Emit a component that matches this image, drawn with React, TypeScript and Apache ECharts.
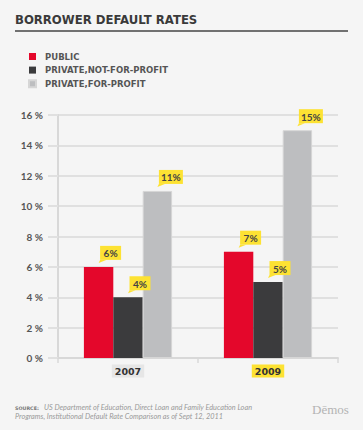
import React, { useEffect, useRef } from "react";
import * as echarts from "echarts";

const categories = ["2007", "2009"];
const seriesNames = ["PUBLIC", "PRIVATE,NOT-FOR-PROFIT", "PRIVATE,FOR-PROFIT"];
const publicRates = [6, 7];
const notForProfitRates = [4, 5];
const forProfitRates = [11, 15];
const yTicks = [0, 2, 4, 6, 8, 10, 12, 14, 16];

const colors = ["#e4072b", "#3b3b3d", "#bdbec0"];
const BG = "#f5f5f5";
const CAT_GAP = 0.37;

function calloutSeries(values: number[], idx: number) {
  return {
    type: "custom",
    name: seriesNames[idx] + " label",
    data: values.map((v, i) => [i, v]),
    encode: { x: 0, y: 1 },
    z: 10,
    renderItem: (params: any, api: any) => {
      const cat = api.value(0);
      const val = api.value(1);
      const pt = api.coord([cat, val]);
      const catW = api.size([1, 0])[0];
      const barW = (catW * (1 - CAT_GAP)) / 3;
      const cx = pt[0] + (idx - 1) * barW;
      const tipY = pt[1] - 4;
      const boxBottom = tipY - 3;
      const label = val + "%";
      const w = label.length > 2 ? 24 : 21;
      const h = 14;
      const bx = cx + 1.5;
      return {
        type: "group",
        children: [
          {
            type: "polygon",
            shape: { points: [[cx, tipY], [bx, boxBottom], [bx + 6, boxBottom]] },
            style: { fill: "#fde233" },
          },
          {
            type: "rect",
            shape: { x: bx, y: boxBottom - h, width: w, height: h },
            style: { fill: "#fde233" },
          },
          {
            type: "text",
            x: bx + w / 2,
            y: boxBottom - h / 2 + 0.5,
            style: {
              text: label,
              fill: "#444",
              font: "bold 10px Lato",
              align: "center",
              verticalAlign: "middle",
            },
          },
        ],
      };
    },
  };
}

export default function App() {
  const ref = useRef<HTMLDivElement>(null);
  useEffect(() => {
    if (!ref.current) return;
    const chart = echarts.init(ref.current, null, { renderer: "svg" });
    const barData = [publicRates, notForProfitRates, forProfitRates];
    chart.setOption({
      animation: false,
      backgroundColor: BG,
      grid: { left: 58, right: 25, top: 115, bottom: 72 },
      legend: {
        data: seriesNames,
        orient: "vertical",
        left: 28,
        top: 52,
        padding: 0,
        itemWidth: 7,
        itemHeight: 7,
        itemGap: 4.6,
        icon: "rect",
        selectedMode: false,
        textStyle: {
          fontFamily: "DejaVu Sans",
          fontWeight: "bold",
          fontSize: 8.5,
          lineHeight: 7,
          color: "#555",
          padding: [0, 0, 0, 4],
        },
      },
      graphic: [
        {
          type: "text",
          left: 15,
          top: 14,
          style: {
            text: "BORROWER DEFAULT RATES",
            font: "bold 11.7px 'DejaVu Sans'",
            fill: "#3a3a3a",
          },
        },
        {
          type: "line",
          shape: { x1: 15, y1: 31, x2: 348, y2: 31 },
          style: { stroke: "#444", lineWidth: 1.5 },
        },
        {
          type: "text",
          left: 15,
          top: 405.5,
          style: { text: "SOURCE:", font: "bold 4.8px 'DejaVu Sans'", fill: "#777" },
        },
        {
          type: "text",
          left: 44,
          top: 403.5,
          style: {
            text: "US Department of Education, Direct Loan and Family Education Loan",
            font: "italic 7.3px Lato",
            fill: "#999",
          },
        },
        {
          type: "text",
          left: 15,
          top: 412.5,
          style: {
            text: "Programs, Institutional Default Rate Comparison as of Sept 12, 2011",
            font: "italic 7.3px Lato",
            fill: "#999",
          },
        },
        {
          type: "text",
          left: 312,
          top: 403,
          style: { text: "Dēmos", font: "13px 'Liberation Serif'", fill: "#b3b3b3" },
        },
      ],
      xAxis: {
        type: "category",
        data: categories,
        axisLine: { lineStyle: { color: "#d8d8d8", width: 2 } },
        axisTick: { show: true, length: 5, lineStyle: { color: "#d8d8d8", width: 1.5 } },
        axisLabel: {
          margin: 8,
          formatter: (v: string, i: number) => (i === 0 ? `{a|${v}}` : `{b|${v}}`),
          rich: {
            a: {
              backgroundColor: "#e6e6e6",
              padding: [2, 3, 1, 3],
              fontFamily: "DejaVu Sans",
              fontWeight: "bold",
              fontSize: 9.5,
              lineHeight: 10,
              color: "#333",
            },
            b: {
              backgroundColor: "#fde233",
              padding: [2, 3, 1, 3],
              fontFamily: "DejaVu Sans",
              fontWeight: "bold",
              fontSize: 9.5,
              lineHeight: 10,
              color: "#333",
            },
          },
        },
      },
      yAxis: {
        type: "value",
        min: yTicks[0],
        max: yTicks[yTicks.length - 1],
        interval: 2,
        axisLine: { show: true, lineStyle: { color: "#d8d8d8", width: 2 } },
        axisTick: { show: true, length: 10, lineStyle: { color: "#e0e0e0", width: 2 } },
        splitLine: { lineStyle: { color: "#e0e0e0", width: 2 } },
        axisLabel: {
          margin: 15,
          formatter: "{value} %",
          fontFamily: "Lato",
          fontWeight: "bold",
          fontSize: 10,
          color: "#555",
        },
      },
      series: [
        ...barData.map((d, i) => ({
          type: "bar",
          name: seriesNames[i],
          data: d,
          barGap: "0%",
          barCategoryGap: CAT_GAP * 100 + "%",
          itemStyle: {
            color: colors[i],
            borderColor: i === 2 ? "#d6d6d6" : colors[i],
            borderWidth: i === 2 ? 1 : 0,
          },
        })),
        calloutSeries(publicRates, 0),
        calloutSeries(notForProfitRates, 1),
        calloutSeries(forProfitRates, 2),
      ],
    });
    return () => chart.dispose();
  }, []);
  return (
    <div
      ref={ref}
      style={{ position: "absolute", left: 0, top: 0, width: 363, height: 430, background: BG }}
    />
  );
}
